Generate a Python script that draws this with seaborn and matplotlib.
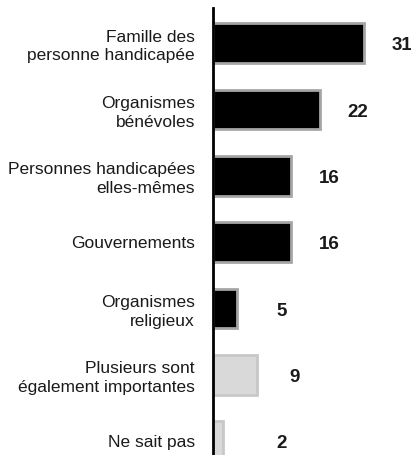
import matplotlib
matplotlib.use("Agg")
import matplotlib.pyplot as plt
import seaborn as sns
import pandas as pd

categories = [
    "Famille des\npersonne handicapée",
    "Organismes\nbénévoles",
    "Personnes handicapées\nelles-mêmes",
    "Gouvernements",
    "Organismes\nreligieux",
    "Plusieurs sont\négalement importantes",
    "Ne sait pas",
]
values = [31, 22, 16, 16, 5, 9, 2]
fill_colors = ["#000000"] * 5 + ["#d9d9d9"] * 2
edge_colors = ["#a6a6a6"] * 5 + ["#c8c8c8"] * 2

sns.set_theme(style="white")
plt.rcParams["font.family"] = ["Liberation Sans", "DejaVu Sans"]

df = pd.DataFrame({"cat": categories, "val": values})

fig = plt.figure(figsize=(4.11, 4.55), dpi=100)
ax = fig.add_axes([213 / 411, 0, 198 / 411, 1 - 8 / 455])

sns.barplot(data=df, x="val", y="cat", hue="cat", palette=fill_colors,
            legend=False, width=0.6, ax=ax, orient="h", saturation=1)

for p, ec in zip(ax.patches, edge_colors):
    p.set_edgecolor(ec)
    p.set_linewidth(2)

ax.set_xlim(0, 40.7)
ax.set_ylim(6.21, -0.53)
ax.set_xlabel("")
ax.set_ylabel("")
ax.set_xticks([])
for s in ["top", "right", "bottom"]:
    ax.spines[s].set_visible(False)
ax.spines["left"].set_color("black")
ax.spines["left"].set_linewidth(2)
ax.tick_params(axis="y", length=0, pad=13)
for lbl in ax.get_yticklabels():
    lbl.set_fontsize(12.5)
    lbl.set_color("#1a1a1a")
    lbl.set_multialignment("right")
    lbl.set_linespacing(1.3)

for i, v in enumerate(values):
    ax.annotate(str(v), xy=(max(v, 6.2), i), xytext=(27.4, -2),
                textcoords="offset points", ha="center", va="center",
                fontsize=13.5, fontweight="bold", color="#1a1a1a",
                annotation_clip=False)

fig.savefig("out.png", dpi=100)
